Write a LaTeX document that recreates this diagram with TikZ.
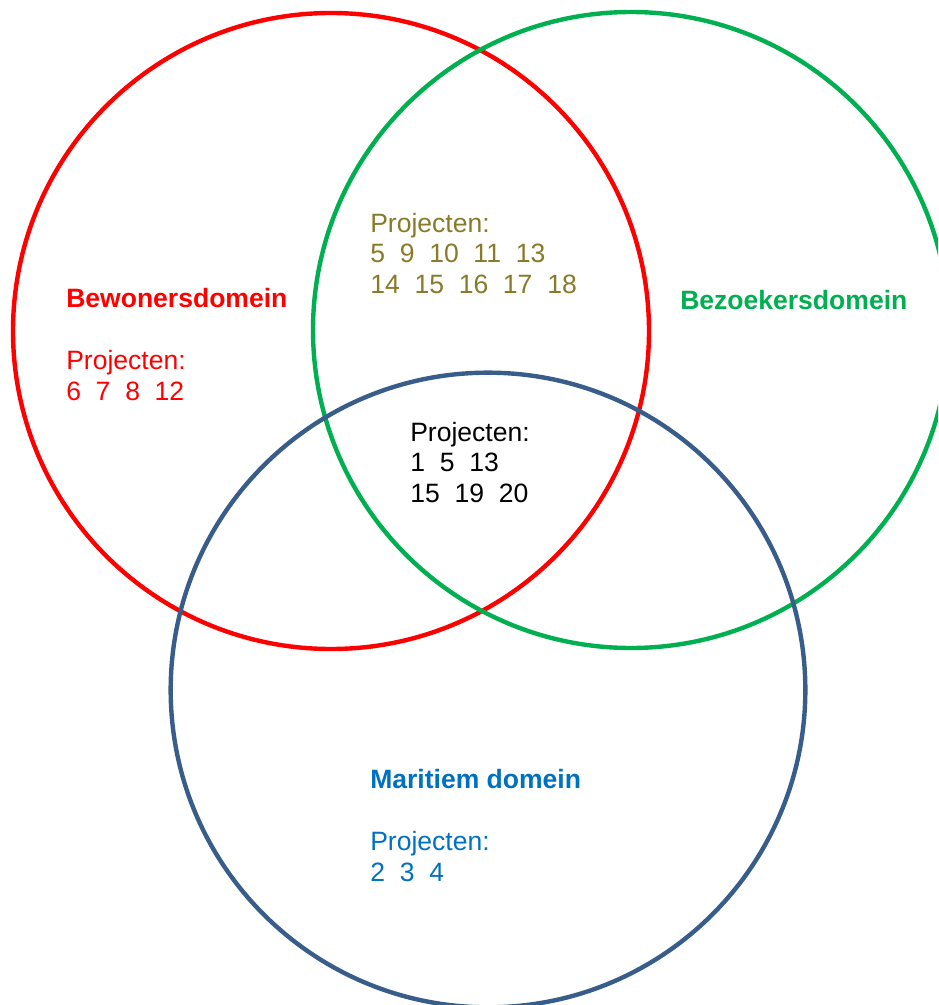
\documentclass[tikz,border=0pt]{standalone}
\usepackage{fontspec}
\setmainfont{Liberation Sans}
\usepackage{tikz}
\usetikzlibrary{positioning}
\definecolor{bewonersred}{RGB}{255, 0, 0}
\definecolor{bezoekersgreen}{RGB}{0, 176, 80}
\definecolor{maritiemblue}{RGB}{0, 112, 192}
\definecolor{ringblue}{RGB}{56, 93, 138}
\definecolor{overlapolive}{RGB}{136, 122, 40}

\begin{document}
\begin{tikzpicture}[x=0.75pt, y=-0.75pt,
    ring/.style={circle, line width=3.3pt, minimum size=477pt, inner sep=0pt},
    domaintitle/.style={anchor=base west, inner sep=0pt, font=\fontsize{19.9}{22.6}\selectfont\bfseries},
    projects/.style={anchor=base west, inner sep=0pt, align=left, font=\fontsize{19.9}{22.6}\selectfont}
]
\useasboundingbox (0,0) rectangle (938,1005);
\clip (0,0) rectangle (938,1005);

% Domains
\node[ring, draw=bewonersred] (bewoners) at (331,331) {};
\node[ring, draw=bezoekersgreen] (bezoekers) at (631,330) {};
\node[ring, draw=ringblue, minimum size=476pt] (maritiem) at (488,690) {};

% Bewonersdomein (base = last line)
\node[domaintitle, text=bewonersred] (bewtitle) at (66,307) {Bewonersdomein};
\node[projects, text=bewonersred] (bewproj) at (66,400) {Projecten:\\6\ \ 7\ \ 8\ \ 12};

% Bezoekersdomein
\node[domaintitle, text=bezoekersgreen] (beztitle) at (680,309) {Bezoekersdomein};

% Bewoners + Bezoekers
\node[projects, text=overlapolive] (bbproj) at (370,293) {Projecten:\\5\ \ 9\ \ 10\ \ 11\ \ 13\\14\ \ 15\ \ 16\ \ 17\ \ 18};

% All three
\node[projects] (allproj) at (410,502) {Projecten:\\1\ \ 5\ \ 13\\15\ \ 19\ \ 20};

% Maritiem domein
\node[domaintitle, text=maritiemblue] (martitle) at (370,788) {Maritiem domein};
\node[projects, text=maritiemblue] (marproj) at (370,881) {Projecten:\\2\ \ 3\ \ 4};

\end{tikzpicture}
\end{document}
